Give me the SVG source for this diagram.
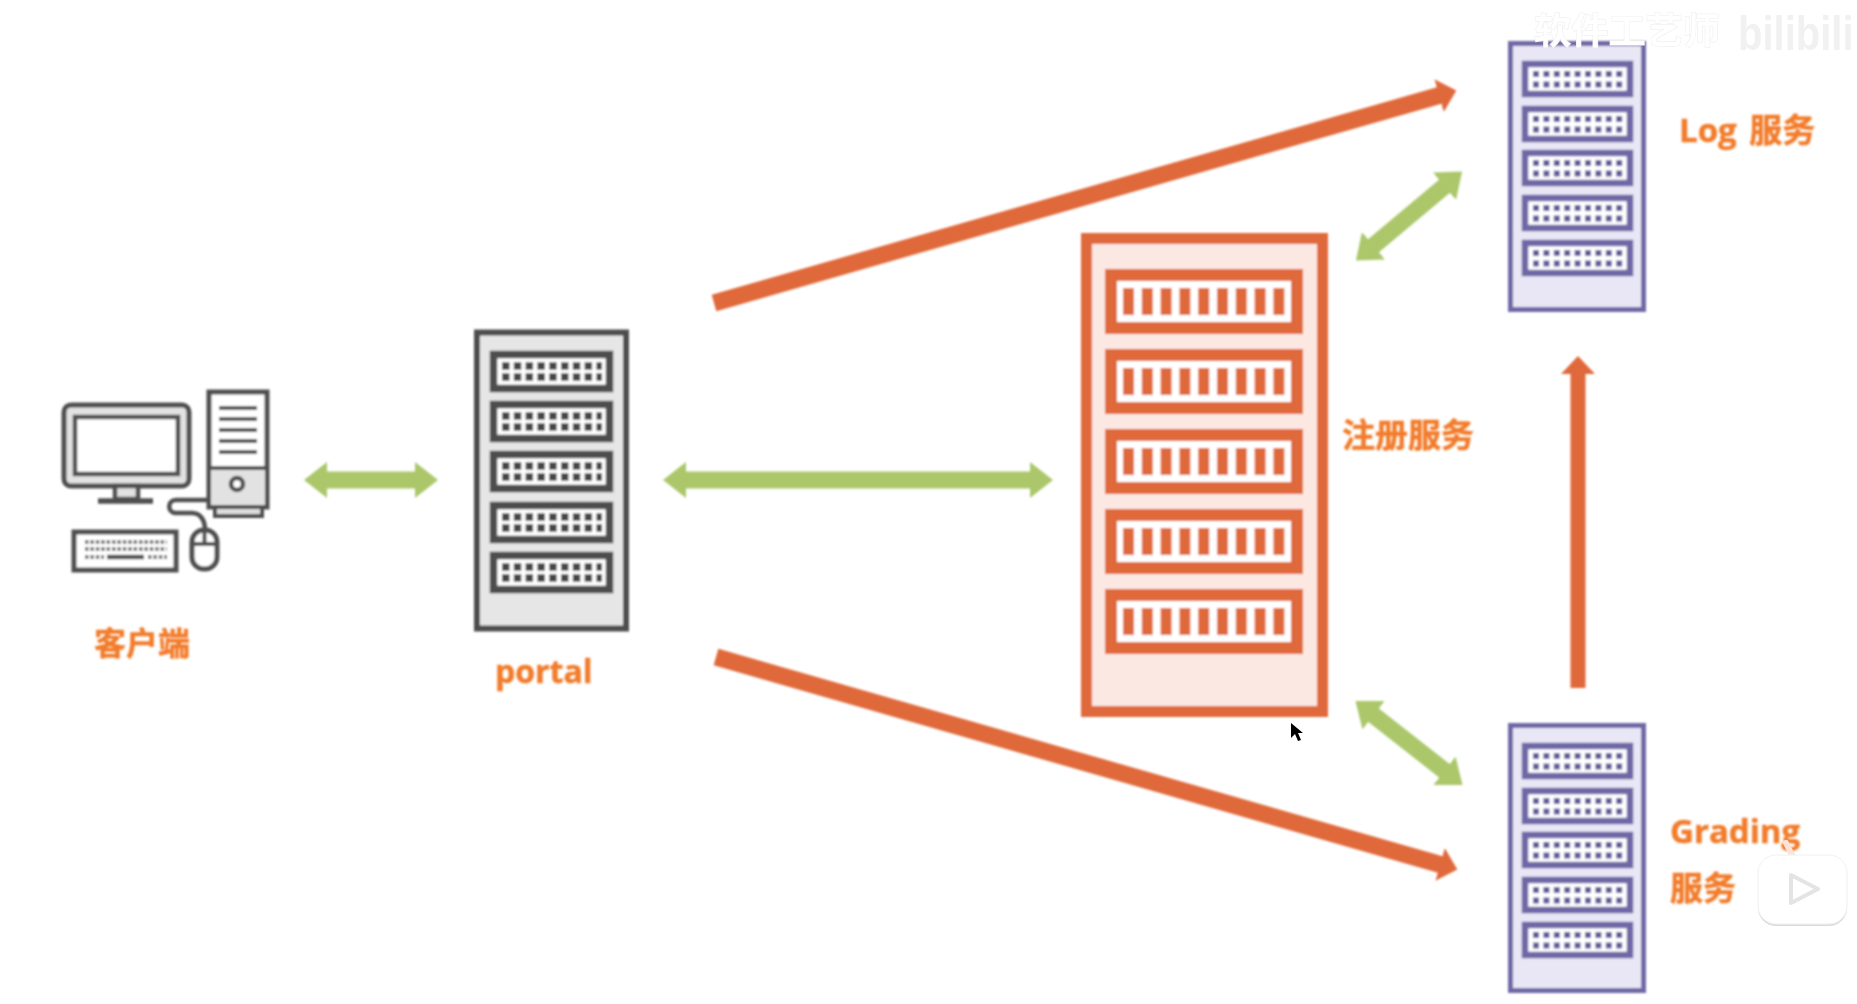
<svg xmlns="http://www.w3.org/2000/svg" xmlns:xlink="http://www.w3.org/1999/xlink" width="1857" height="1004" viewBox="0 0 1857 1004">
<style>
.soft{filter:url(#soft)}
.softer{filter:url(#softer)}
.lbl{font-family:"Noto Sans CJK SC","Open Sans",sans-serif;font-weight:700;font-size:33px;fill:#F27C2C;stroke:#F27C2C;stroke-width:.5}
.latin{font-family:"Open Sans","Noto Sans CJK SC",sans-serif;font-weight:700}
.g{stroke:#ABC76A;stroke-width:17;fill:none}
.o{stroke:#E0693B;stroke-width:17;fill:none}
.ic{stroke:#4f4f4f;stroke-width:5;fill:#fff}
.gray{stroke:#4d4d4d;fill:#e6e6e6}
.pur{stroke:#6E68A6;fill:#E9E7F5}
.red{stroke:#E0693B;fill:#FBE8E2}
</style>
<defs>
<filter id="soft" x="-5%" y="-5%" width="110%" height="110%"><feGaussianBlur stdDeviation="0.8"/></filter>
<filter id="softer" x="-5%" y="-5%" width="110%" height="110%"><feGaussianBlur stdDeviation="0.5"/></filter>
<marker id="gh" markerUnits="userSpaceOnUse" markerWidth="26" markerHeight="40" refX="2" refY="20" orient="auto-start-reverse"><path d="M0 2 L23 20 L0 38 Z" fill="#ABC76A"/></marker>
<marker id="oh" markerUnits="userSpaceOnUse" markerWidth="24" markerHeight="40" refX="2" refY="20" orient="auto"><path d="M0 3 L18 20 L0 37 Z" fill="#E0693B"/></marker>
<g id="u-gray">
<rect x="3.500" y="3.500" width="116" height="34" fill="#fff" stroke="#4d4d4d" stroke-width="7.500"/>
<path d="M12 15H112M12 26H112" stroke="#454545" stroke-width="7.500" stroke-dasharray="7.500 4.300" fill="none"/>
</g>
<g id="u-pur">
<rect x="3" y="3" width="105" height="30" fill="#fff" stroke="#6E68A6" stroke-width="6.500"/>
<path d="M11 13H103M11 23.500H103" stroke="#5F5A99" stroke-width="6" stroke-dasharray="6 4.400" fill="none"/>
</g>
<g id="u-red">
<rect x="6" y="6" width="186" height="53" fill="#fff" stroke="#E0693B" stroke-width="12"/>
<path d="M18 32.500H188" stroke="#E0693B" stroke-width="27" stroke-dasharray="11 7.800" fill="none"/>
</g>
</defs>
<rect width="1857" height="1004" fill="#fff"/>

<g id="connectors" class="soft">
<line class="g" x1="325" y1="480" x2="417" y2="480" marker-start="url(#gh)" marker-end="url(#gh)"/>
<line class="g" x1="684" y1="480" x2="1032" y2="480" marker-start="url(#gh)" marker-end="url(#gh)"/>
<line class="g" x1="1372" y1="247" x2="1446" y2="185" marker-start="url(#gh)" marker-end="url(#gh)"/>
<line class="g" x1="1372" y1="714" x2="1446" y2="772" marker-start="url(#gh)" marker-end="url(#gh)"/>
<line class="o" x1="714" y1="303" x2="1441" y2="95" marker-end="url(#oh)"/>
<line class="o" x1="716" y1="657" x2="1442" y2="865" marker-end="url(#oh)"/>
<line class="o" style="stroke-width:15" x1="1578" y1="688" x2="1578" y2="372" marker-end="url(#oh)"/>
</g>

<g id="client" class="soft">
<rect class="ic" x="209" y="392" width="58" height="115"/>
<rect x="211" y="469" width="54" height="36" fill="#e2e2e2"/>
<path d="M209 468H267M219 408H257M219 419H257M219 430H257M219 441H257M219 452H257" stroke="#4f4f4f" stroke-width="4" fill="none"/>
<circle cx="237" cy="484" r="6" fill="#fff" stroke="#4f4f4f" stroke-width="4.500"/>
<rect x="215" y="507" width="47" height="9" fill="#ddd" stroke="#4f4f4f" stroke-width="4"/>
<rect x="64" y="405" width="125" height="81" rx="7" fill="#e2e2e2" stroke="#4f4f4f" stroke-width="5"/>
<rect x="75" y="417" width="103" height="57" fill="#fff" stroke="#4f4f4f" stroke-width="4.500"/>
<rect x="115" y="486" width="23" height="13" fill="#e2e2e2" stroke="#4f4f4f" stroke-width="4.500"/>
<path d="M98 501H153" stroke="#4f4f4f" stroke-width="5.500" fill="none"/>
<path d="M209 500H176C167 500 167 513 176 513H192C201 513 205 521 205 530" stroke="#4f4f4f" stroke-width="4.500" fill="none"/>
<rect class="ic" x="192" y="530" width="25" height="39" rx="12"/>
<path d="M192 544H217M204.500 530V544" stroke="#4f4f4f" stroke-width="4" fill="none"/>
<rect class="ic" x="74" y="532" width="102" height="38"/>
<path d="M85 542H167M85 549H167M85 557H104M148 557H167" stroke="#777" stroke-width="4" stroke-dasharray="3.500 1.900" fill="none"/>
<path d="M107 557H144" stroke="#4f4f4f" stroke-width="4.500" fill="none"/>
<text class="lbl" x="94" y="655" style="font-size:32px">客户端</text>
</g>

<g id="portal" class="soft">
<rect class="gray" x="477" y="332.500" width="149" height="296" stroke-width="6"/>
<use xlink:href="#u-gray" href="#u-gray" x="490" y="351"/>
<use xlink:href="#u-gray" href="#u-gray" x="490" y="401"/>
<use xlink:href="#u-gray" href="#u-gray" x="490" y="451"/>
<use xlink:href="#u-gray" href="#u-gray" x="490" y="502"/>
<use xlink:href="#u-gray" href="#u-gray" x="490" y="552"/>
<text class="lbl latin" x="495" y="683" style="font-size:32px">portal</text>
</g>

<g id="registry" class="soft">
<rect class="red" x="1086.500" y="238.500" width="236" height="473" stroke-width="11"/>
<use xlink:href="#u-red" href="#u-red" x="1105" y="269"/>
<use xlink:href="#u-red" href="#u-red" x="1105" y="349"/>
<use xlink:href="#u-red" href="#u-red" x="1105" y="429"/>
<use xlink:href="#u-red" href="#u-red" x="1105" y="509"/>
<use xlink:href="#u-red" href="#u-red" x="1105" y="589"/>
<text class="lbl" x="1342" y="447">注册服务</text>
</g>

<g id="log" class="soft">
<rect class="pur" x="1510.500" y="43.500" width="133" height="266" stroke-width="5"/>
<use xlink:href="#u-pur" href="#u-pur" x="1522" y="61"/>
<use xlink:href="#u-pur" href="#u-pur" x="1522" y="106"/>
<use xlink:href="#u-pur" href="#u-pur" x="1522" y="150"/>
<use xlink:href="#u-pur" href="#u-pur" x="1522" y="195"/>
<use xlink:href="#u-pur" href="#u-pur" x="1522" y="240"/>
<text class="lbl latin" x="1679" y="142">Log <tspan style="font-family:'Noto Sans CJK SC',sans-serif;font-weight:700" dx="4">服务</tspan></text>
</g>

<g id="grading" class="soft">
<rect class="pur" x="1510.500" y="725.500" width="133" height="265" stroke-width="5"/>
<use xlink:href="#u-pur" href="#u-pur" x="1522" y="743"/>
<use xlink:href="#u-pur" href="#u-pur" x="1522" y="788"/>
<use xlink:href="#u-pur" href="#u-pur" x="1522" y="832"/>
<use xlink:href="#u-pur" href="#u-pur" x="1522" y="877"/>
<use xlink:href="#u-pur" href="#u-pur" x="1522" y="922"/>
<text class="lbl latin" x="1670" y="843">Grading</text>
<text class="lbl" x="1670" y="900">服务</text>
</g>

<g id="watermark" class="softer">
<text x="1534" y="44" font-family="'Noto Sans CJK SC',sans-serif" font-size="36" font-weight="700" fill="#fff" stroke="#ececec" stroke-width="1" paint-order="stroke" textLength="186" lengthAdjust="spacingAndGlyphs">软件工艺师</text>
<text transform="translate(1738 50) scale(1 1.200)" font-family="'Liberation Sans',sans-serif" font-size="40" font-weight="700" fill="#f1f1f1">bilibili</text>
<path d="M1786 843L1793 857" stroke="#FBE3D6" stroke-width="6" stroke-linecap="round"/>
<path d="M1822 842L1814 857" stroke="#fff" stroke-width="6" stroke-linecap="round"/>
<rect x="1758" y="856" width="89" height="70" rx="18" fill="#dcdcdc"/>
<rect x="1758" y="855" width="89" height="69" rx="18" fill="#fff" stroke="#f0f0f0" stroke-width="1"/>
<path d="M1791 875L1818 889L1791 903Z" fill="#fff" stroke="#e4e4e4" stroke-width="4" stroke-linejoin="round"/>
<path id="cursor" d="M1291 723V738L1295 734L1298 741L1301 740L1298 733L1303 733Z" fill="#000"/>
</g>
</svg>
